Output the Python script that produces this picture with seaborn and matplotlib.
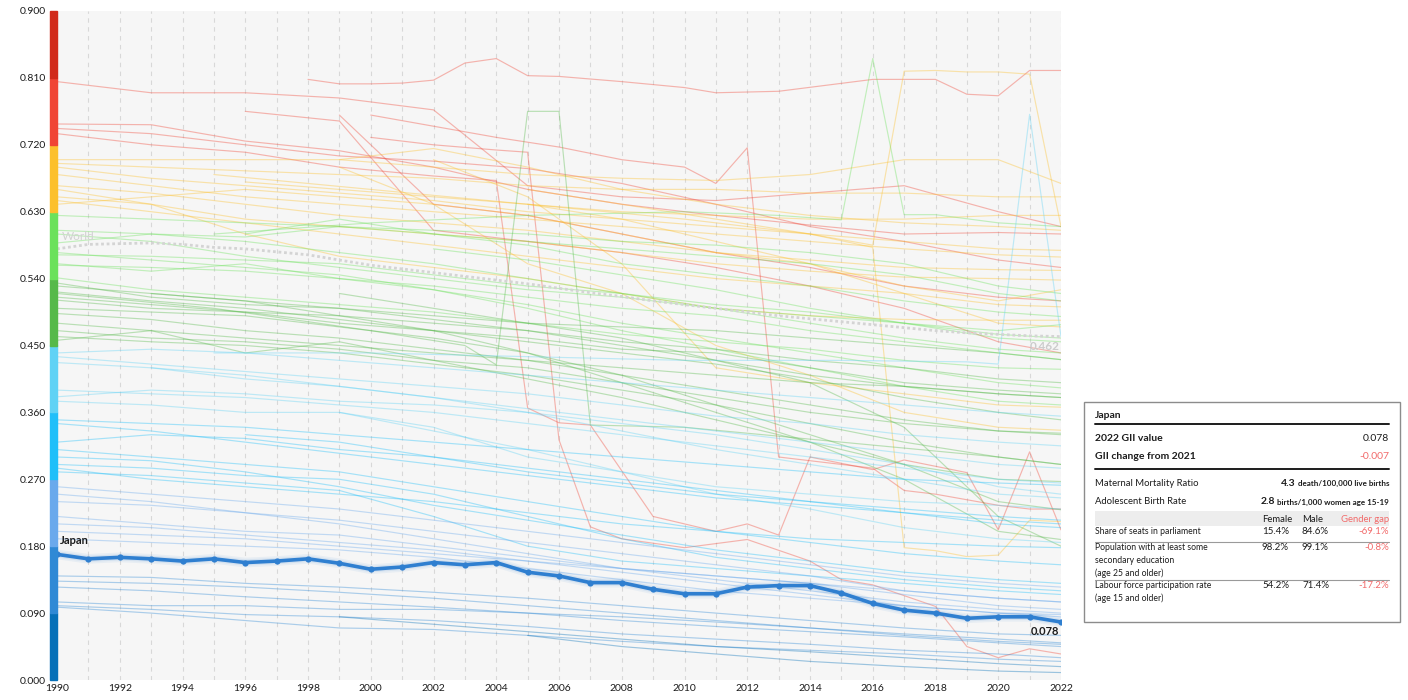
import matplotlib

matplotlib.use("Agg")
import matplotlib.pyplot as plt
import matplotlib.transforms as mtransforms
from matplotlib.lines import Line2D
from matplotlib.patches import Rectangle
import pandas as pd
import seaborn as sns

# ---------------------------------------------------------------- data
YEARS = list(range(1990, 2023))

JAPAN_GII = [0.169, 0.163, 0.165, 0.163, 0.160, 0.163, 0.158, 0.160, 0.163, 0.157,
             0.149, 0.152, 0.158, 0.155, 0.158, 0.145, 0.140, 0.131, 0.131, 0.122,
             0.116, 0.116, 0.125, 0.127, 0.127, 0.117, 0.103, 0.094, 0.090, 0.083,
             0.085, 0.085, 0.078]

WORLD_GII = [0.580, 0.586, 0.587, 0.588, 0.586, 0.582, 0.580, 0.576, 0.572, 0.565,
             0.558, 0.553, 0.548, 0.543, 0.538, 0.533, 0.527, 0.521, 0.516, 0.510,
             0.505, 0.500, 0.495, 0.490, 0.486, 0.482, 0.478, 0.474, 0.470, 0.467,
             0.465, 0.463, 0.462]

# other countries, read at a coarser set of years
GRID_YEARS = [1990, 1993, 1996, 1999, 2002, 2005, 2008, 2011, 2014, 2017, 2020, 2022]

RED_LINES = [
    [0.805, 0.790, 0.790, 0.783, 0.767, 0.665, 0.650, 0.645, 0.655, 0.665, 0.630, 0.610],
    [0.748, 0.747, 0.725, 0.712, 0.690, 0.660, 0.640, 0.625, 0.612, 0.600, 0.602, 0.600],
    [0.742, 0.735, 0.720, 0.705, 0.698, 0.688, 0.668, 0.640, 0.610, 0.590, 0.565, 0.555],
    [None, None, 0.765, 0.752, 0.605, 0.590, 0.575, 0.555, 0.530, 0.500, 0.455, 0.440],
    [None, None, None, 0.760, 0.640, 0.625, 0.600, 0.575, 0.555, 0.530, 0.515, 0.510],
]

YELLOW_LINES = [
    [0.700, 0.700, 0.700, 0.700, 0.690, 0.680, 0.675, 0.672, 0.680, 0.700, 0.700, 0.668],
    [0.695, 0.690, 0.685, 0.680, 0.675, 0.665, 0.660, 0.660, 0.655, 0.655, 0.650, 0.650],
    [0.690, 0.675, 0.665, 0.655, 0.645, 0.630, 0.620, 0.610, 0.600, 0.590, 0.580, 0.578],
    [0.680, 0.665, 0.650, 0.640, 0.630, 0.620, 0.610, 0.600, 0.590, 0.580, 0.572, 0.569],
    [0.665, 0.655, 0.640, 0.625, 0.615, 0.605, 0.590, 0.575, 0.565, 0.555, 0.552, 0.551],
    [0.650, 0.640, 0.620, 0.610, 0.600, 0.590, 0.575, 0.560, 0.550, 0.542, 0.540, 0.538],
    [0.645, 0.630, 0.615, 0.600, 0.585, 0.570, 0.555, 0.540, 0.530, 0.520, 0.505, 0.502],
    [None, None, None, 0.700, 0.715, 0.690, 0.660, 0.640, 0.625, 0.615, 0.610, 0.605],
    [None, None, 0.670, 0.660, 0.650, 0.640, 0.630, 0.625, 0.620, 0.620, 0.625, 0.625],
    [0.640, 0.650, 0.660, 0.650, 0.640, 0.625, 0.600, 0.575, 0.560, 0.530, 0.510, 0.525],
    [None, None, None, None, None, 0.640, 0.620, 0.590, 0.560, 0.520, 0.480, 0.475],
    [0.660, 0.640, 0.600, 0.570, 0.555, 0.540, 0.520, 0.500, 0.490, 0.485, 0.484, 0.484],
    [None, None, None, 0.690, 0.640, 0.560, 0.520, 0.450, 0.410, 0.360, 0.340, 0.336],
    [None, None, None, None, 0.700, 0.650, 0.560, 0.420, 0.400, 0.385, 0.370, 0.367],
]

GREEN_LINES = [
    [0.625, 0.620, 0.615, 0.610, 0.605, 0.600, 0.590, 0.585, 0.575, 0.560, 0.530, 0.520],
    [0.605, 0.600, 0.596, 0.610, 0.600, 0.590, 0.580, 0.570, 0.560, 0.545, 0.520, 0.510],
    [0.588, 0.600, 0.590, 0.575, 0.560, 0.540, 0.520, 0.500, 0.490, 0.480, 0.470, 0.478],
    [0.572, 0.570, 0.565, 0.560, 0.545, 0.530, 0.520, 0.505, 0.495, 0.480, 0.465, 0.460],
    [0.558, 0.555, 0.550, 0.540, 0.530, 0.515, 0.500, 0.490, 0.470, 0.455, 0.440, 0.431],
    [0.600, 0.590, 0.570, 0.555, 0.540, 0.525, 0.515, 0.500, 0.480, 0.460, 0.445, 0.440],
    [0.575, 0.565, 0.555, 0.545, 0.525, 0.505, 0.480, 0.460, 0.440, 0.420, 0.400, 0.393],
    [None, None, 0.600, 0.620, 0.600, 0.585, 0.560, 0.545, 0.530, 0.510, 0.495, 0.489],
    [0.560, 0.550, 0.560, 0.540, 0.525, 0.500, 0.470, 0.445, 0.420, 0.395, 0.375, 0.370],
    [None, None, None, None, 0.580, 0.565, 0.545, 0.525, 0.500, 0.480, 0.460, 0.455],
    [0.541, 0.525, 0.515, 0.505, 0.495, 0.480, 0.465, 0.455, 0.445, 0.430, 0.420, 0.418],
    [0.534, 0.515, 0.505, 0.500, 0.485, 0.470, 0.450, 0.430, 0.410, 0.395, 0.385, 0.380],
    [0.522, 0.510, 0.500, 0.485, 0.470, 0.455, 0.440, 0.425, 0.405, 0.380, 0.360, 0.350],
    [0.511, 0.500, 0.495, 0.480, 0.470, 0.460, 0.445, 0.440, 0.420, 0.400, 0.390, 0.385],
    [0.493, 0.485, 0.470, 0.460, 0.445, 0.430, 0.410, 0.390, 0.370, 0.350, 0.335, 0.332],
    [0.462, 0.455, 0.450, 0.440, 0.425, 0.410, 0.390, 0.370, 0.345, 0.320, 0.300, 0.290],
    [0.457, 0.470, 0.440, 0.455, 0.430, 0.405, 0.380, 0.350, 0.320, 0.290, 0.270, 0.267],
    [0.530, 0.520, 0.510, 0.490, 0.470, 0.440, 0.410, 0.370, 0.330, 0.290, 0.240, 0.229],
    [0.500, 0.495, 0.490, 0.475, 0.460, 0.440, 0.400, 0.360, 0.320, 0.270, 0.200, 0.189],
    [None, None, None, 0.520, 0.500, 0.480, 0.460, 0.430, 0.400, 0.340, 0.220, 0.180],
    [0.480, 0.470, 0.460, 0.450, 0.440, 0.430, 0.420, 0.410, 0.400, 0.395, 0.385, 0.380],
    [None, 0.520, 0.510, 0.500, 0.490, 0.480, 0.475, 0.470, 0.460, 0.450, 0.440, 0.431],
    [0.515, 0.505, 0.495, 0.490, 0.480, 0.470, 0.455, 0.445, 0.430, 0.420, 0.405, 0.400],
    [0.470, 0.460, 0.455, 0.445, 0.430, 0.420, 0.400, 0.380, 0.360, 0.345, 0.335, 0.330],
]

BLUE_LINES = [
    [0.440, 0.445, 0.440, 0.430, 0.420, 0.410, 0.400, 0.390, 0.380, 0.370, 0.360, 0.355],
    [0.435, 0.425, 0.415, 0.405, 0.395, 0.385, 0.370, 0.355, 0.345, 0.330, 0.320, 0.315],
    [0.427, 0.420, 0.405, 0.395, 0.380, 0.365, 0.350, 0.335, 0.320, 0.305, 0.290, 0.285],
    [0.390, 0.385, 0.380, 0.370, 0.360, 0.345, 0.330, 0.315, 0.300, 0.285, 0.270, 0.265],
    [0.381, 0.390, 0.385, 0.375, 0.370, 0.360, 0.345, 0.330, 0.310, 0.290, 0.260, 0.250],
    [0.375, 0.370, 0.360, 0.360, 0.335, 0.310, 0.280, 0.250, 0.230, 0.205, 0.190, 0.185],
    [None, 0.420, 0.410, 0.395, 0.380, 0.360, 0.335, 0.310, 0.290, 0.270, 0.250, 0.245],
    [0.350, 0.345, 0.340, 0.330, 0.320, 0.310, 0.300, 0.290, 0.280, 0.270, 0.265, 0.262],
    [0.345, 0.335, 0.320, 0.305, 0.290, 0.275, 0.260, 0.245, 0.235, 0.225, 0.215, 0.210],
    [0.320, 0.330, 0.325, 0.310, 0.300, 0.285, 0.270, 0.255, 0.240, 0.225, 0.210, 0.205],
    [0.310, 0.300, 0.290, 0.280, 0.260, 0.240, 0.220, 0.200, 0.185, 0.170, 0.160, 0.155],
    [0.300, 0.295, 0.280, 0.260, 0.235, 0.215, 0.195, 0.175, 0.160, 0.145, 0.135, 0.130],
    [0.290, 0.285, 0.275, 0.270, 0.250, 0.220, 0.190, 0.165, 0.150, 0.135, 0.125, 0.120],
    [0.285, 0.270, 0.260, 0.250, 0.240, 0.225, 0.210, 0.200, 0.190, 0.185, 0.180, 0.178],
    [0.280, 0.275, 0.265, 0.255, 0.220, 0.180, 0.160, 0.150, 0.140, 0.130, 0.120, 0.115],
    [None, None, 0.330, 0.320, 0.300, 0.280, 0.265, 0.250, 0.240, 0.230, 0.220, 0.215],
    [None, None, None, 0.360, 0.340, 0.300, 0.280, 0.260, 0.250, 0.240, 0.235, 0.230],
    [0.260, 0.250, 0.240, 0.230, 0.215, 0.200, 0.185, 0.170, 0.155, 0.140, 0.130, 0.125],
    [0.250, 0.240, 0.225, 0.215, 0.200, 0.185, 0.170, 0.155, 0.140, 0.120, 0.110, 0.105],
    [0.240, 0.235, 0.225, 0.210, 0.190, 0.170, 0.150, 0.135, 0.120, 0.105, 0.095, 0.090],
    [0.220, 0.210, 0.200, 0.195, 0.180, 0.165, 0.150, 0.140, 0.130, 0.120, 0.110, 0.105],
    [0.210, 0.205, 0.195, 0.185, 0.175, 0.160, 0.145, 0.130, 0.115, 0.100, 0.090, 0.088],
    [0.200, 0.195, 0.190, 0.180, 0.170, 0.160, 0.150, 0.140, 0.130, 0.115, 0.100, 0.095],
    [0.190, 0.185, 0.180, 0.175, 0.165, 0.150, 0.135, 0.120, 0.110, 0.100, 0.090, 0.085],
    [0.140, 0.138, 0.130, 0.125, 0.118, 0.110, 0.100, 0.090, 0.080, 0.070, 0.062, 0.060],
    [0.133, 0.130, 0.125, 0.118, 0.110, 0.100, 0.090, 0.080, 0.070, 0.062, 0.055, 0.050],
    [0.125, 0.120, 0.112, 0.105, 0.098, 0.090, 0.080, 0.072, 0.065, 0.058, 0.050, 0.045],
    [0.105, 0.100, 0.100, 0.095, 0.095, 0.090, 0.085, 0.078, 0.070, 0.060, 0.052, 0.048],
    [0.100, 0.095, 0.088, 0.085, 0.080, 0.072, 0.062, 0.055, 0.048, 0.040, 0.035, 0.030],
    [0.098, 0.090, 0.080, 0.070, 0.068, 0.060, 0.052, 0.045, 0.040, 0.035, 0.028, 0.025],
    [None, None, None, 0.085, 0.075, 0.065, 0.055, 0.045, 0.038, 0.030, 0.022, 0.018],
    [None, None, None, None, None, 0.060, 0.045, 0.035, 0.025, 0.018, 0.012, 0.010],
]

# countries with sudden jumps, read year by year where they jump
RS1_YEARS = [1998, 1999, 2000, 2001, 2002, 2003, 2004, 2005, 2006, 2008, 2010, 2011,
             2013, 2016, 2017, 2018, 2019, 2020, 2021, 2022]
RS1_GII = [0.808, 0.802, 0.802, 0.803, 0.807, 0.830, 0.836, 0.813, 0.812, 0.805, 0.797,
           0.790, 0.792, 0.808, 0.808, 0.808, 0.788, 0.786, 0.820, 0.820]
RS2_YEARS = [1990, 1993, 1996, 1999, 2002, 2004, 2005, 2006, 2007, 2009, 2011, 2012,
             2013, 2014, 2016, 2017, 2019, 2020, 2021, 2022]
RS2_GII = [0.735, 0.720, 0.710, 0.690, 0.678, 0.672, 0.366, 0.346, 0.343, 0.220, 0.200,
           0.210, 0.195, 0.300, 0.283, 0.296, 0.279, 0.202, 0.307, 0.202]
RS3_YEARS = [2000, 2002, 2004, 2005, 2006, 2007, 2008, 2010, 2012, 2014, 2015, 2016,
             2018, 2019, 2020, 2021, 2022]
RS3_GII = [0.730, 0.720, 0.713, 0.710, 0.323, 0.206, 0.190, 0.178, 0.189, 0.160, 0.135,
           0.128, 0.099, 0.045, 0.030, 0.042, 0.035]
RS4_YEARS = [2000, 2002, 2004, 2006, 2008, 2010, 2011, 2012, 2013, 2014, 2016, 2017,
             2018, 2020, 2021, 2022]
RS4_GII = [0.760, 0.745, 0.730, 0.717, 0.700, 0.690, 0.668, 0.716, 0.300, 0.295, 0.285,
           0.255, 0.250, 0.235, 0.230, 0.230]
YS1_YEARS = [2005, 2008, 2011, 2014, 2016, 2017, 2018, 2019, 2020, 2021, 2022]
YS1_GII = [0.660, 0.640, 0.620, 0.600, 0.585, 0.819, 0.820, 0.818, 0.818, 0.815, 0.610]
YS2_YEARS = [1995, 2000, 2005, 2010, 2014, 2016, 2017, 2018, 2019, 2020, 2021, 2022]
YS2_GII = [0.680, 0.660, 0.640, 0.620, 0.600, 0.582, 0.178, 0.174, 0.166, 0.168, 0.215,
           0.213]
GS1_YEARS = [1995, 2000, 2005, 2010, 2013, 2015, 2016, 2017, 2018, 2020, 2022]
GS1_GII = [0.600, 0.615, 0.625, 0.630, 0.625, 0.619, 0.836, 0.626, 0.626, 0.615, 0.610]
GS2_YEARS = [1990, 1995, 2000, 2003, 2004, 2005, 2006, 2007, 2010, 2015, 2020, 2022]
GS2_GII = [0.520, 0.500, 0.470, 0.450, 0.424, 0.765, 0.765, 0.343, 0.340, 0.320, 0.300,
           0.290]
BS1_YEARS = [1995, 2000, 2005, 2010, 2015, 2019, 2020, 2021, 2022]
BS1_GII = [0.440, 0.440, 0.435, 0.430, 0.430, 0.428, 0.425, 0.761, 0.462]

BAND_EDGES = [0.0, 0.09, 0.18, 0.27, 0.36, 0.45, 0.54, 0.63, 0.72, 0.81, 0.90]
BAND_COLORS = ["#0670b8", "#2f89d5", "#6aa9ec", "#20bff9", "#60d2f5",
               "#56b94a", "#6be15b", "#fcc02c", "#f04535", "#d12a1a"]

BOX_ROWS = [
    ("Share of seats in parliament", "15.4%", "84.6%", "-69.1%"),
    ("Population with at least some\nsecondary education\n(age 25 and older)",
     "98.2%", "99.1%", "-0.8%"),
    ("Labour force participation rate\n(age 15 and older)", "54.2%", "71.4%", "-17.2%"),
]

# ---------------------------------------------------------------- style
sns.set_style("white")
plt.rcParams["font.family"] = ["Lato", "DejaVu Sans"]
TEXT = "#1c1c1c"
GAP_RED = "#f26b6b"


def band_of(v):
    return f"b{min(int(v / 0.09 + 1e-9), 9)}"


# long table of every background country line
rows = []
series = []
for group in (RED_LINES, YELLOW_LINES, GREEN_LINES, BLUE_LINES):
    for vals in group:
        series.append((GRID_YEARS, vals))
series += [(RS1_YEARS, RS1_GII), (RS2_YEARS, RS2_GII), (RS3_YEARS, RS3_GII),
           (RS4_YEARS, RS4_GII), (YS1_YEARS, YS1_GII), (YS2_YEARS, YS2_GII),
           (GS1_YEARS, GS1_GII), (GS2_YEARS, GS2_GII), (BS1_YEARS, BS1_GII)]
for i, (yrs, vals) in enumerate(series):
    pts = [(y, v) for y, v in zip(yrs, vals) if v is not None]
    band = band_of(pts[0][1])
    for y, v in pts:
        rows.append({"country": f"c{i:03d}", "year": y, "gii": v, "band": band})
bg = pd.DataFrame(rows)
palette = {f"b{i}": c for i, c in enumerate(BAND_COLORS)}

fig = plt.figure(figsize=(14.08, 7.0), dpi=100)
W, H = 1408, 700
ax = fig.add_axes([57 / W, 1 - 680 / H, 1004 / W, 669 / H])
ax.set_facecolor("#f6f6f6")

for yr in YEARS:
    ax.axvline(yr, color="#d8d8d8", lw=0.8, ls=(0, (4, 4)), zorder=0)

sns.lineplot(data=bg, x="year", y="gii", units="country", estimator=None,
             hue="band", palette=palette, legend=False, linewidth=0.85,
             alpha=0.38, ax=ax, zorder=2)

# world average
ax.plot(YEARS, WORLD_GII, color="#d4d4d4", lw=2.0, ls=(0, (1, 1)), zorder=3)
ax.text(1990.15, 0.597, "World", color="#d2d2d2", fontsize=8.5, va="center", ha="left")
ax.text(2021.95, 0.449, f"{WORLD_GII[-1]:.3f}", color="#cccccc", fontsize=8.5,
        weight="bold", va="center", ha="right")

# Japan highlighted
jp_color = "#2f7fd0"
ax.plot(YEARS, JAPAN_GII, color=jp_color, lw=7, alpha=0.07, zorder=4,
        solid_capstyle="round")
ax.plot(YEARS, JAPAN_GII, color=jp_color, lw=4.5, alpha=0.10, zorder=4,
        solid_capstyle="round")
sns.lineplot(x=YEARS, y=JAPAN_GII, color=jp_color, lw=2.6, marker="o",
             markersize=4.5, markeredgewidth=0, ax=ax, zorder=5)
ax.text(1990.1, 0.187, "Japan", color=TEXT, fontsize=8, weight="bold",
        va="center", ha="left")
ax.text(2021.95, 0.065, f"{JAPAN_GII[-1]:.3f}", color=TEXT, fontsize=8,
        weight="bold", va="center", ha="right")

# colour scale strip on the left edge
strip = mtransforms.blended_transform_factory(ax.transAxes, ax.transData)
for lo, hi, c in zip(BAND_EDGES[:-1], BAND_EDGES[1:], BAND_COLORS):
    ax.add_patch(Rectangle((-7 / 1004, lo), 7 / 1004, hi - lo, transform=strip,
                           color=c, clip_on=False, zorder=6))

ax.set_xlim(1990, 2022)
ax.set_ylim(0, 0.9)
ax.set_xticks(range(1990, 2023, 2))
ax.set_yticks(BAND_EDGES)
ax.set_yticklabels([f"{v:.3f}" for v in BAND_EDGES])
ax.tick_params(axis="both", length=0, labelsize=7.5, colors=TEXT)
ax.tick_params(axis="y", pad=8)
ax.tick_params(axis="x", pad=3)
ax.set_xlabel("")
ax.set_ylabel("")
for s in ax.spines.values():
    s.set_visible(False)


# ---------------------------------------------------------------- info box
def fx(x):
    return x / W


def fy(y):
    return 1 - y / H


def hline(y, lw, color):
    fig.add_artist(Line2D([fx(1095), fx(1389)], [fy(y), fy(y)], lw=lw, color=color))


fig.add_artist(Rectangle((fx(1084), fy(622)), fx(1400) - fx(1084), fy(402) - fy(622),
                         transform=fig.transFigure, fill=False, ec="#8c8c8c", lw=1))
fig.text(fx(1095), fy(415), "Japan", fontsize=7.5, weight="bold", color=TEXT, va="center")
hline(424.3, 1.4, TEXT)
fig.text(fx(1095), fy(438.7), "2022 GII value", fontsize=7.5, weight="bold",
         color=TEXT, va="center")
fig.text(fx(1389), fy(438.7), f"{JAPAN_GII[-1]:.3f}", fontsize=7.5, color=TEXT,
         va="center", ha="right")
fig.text(fx(1095), fy(456.7), "GII change from 2021", fontsize=7.5, weight="bold",
         color=TEXT, va="center")
fig.text(fx(1389), fy(456.7), f"{JAPAN_GII[-1] - JAPAN_GII[-2]:.3f}", fontsize=7.5,
         color=GAP_RED, va="center", ha="right")
hline(469.3, 1.4, TEXT)

renderer = fig.canvas.get_renderer()
for y, label, big, small in [(486, "Maternal Mortality Ratio", "4.3",
                              "death/100,000 live births"),
                             (504.5, "Adolescent Birth Rate", "2.8",
                              "births/1,000 women age 15-19")]:
    fig.text(fx(1095), fy(y), label, fontsize=6.8, color=TEXT, va="baseline")
    t = fig.text(fx(1389), fy(y), small, fontsize=5.8, color=TEXT, va="baseline",
                 ha="right", weight="bold")
    x0 = t.get_window_extent(renderer).x0
    fig.text((x0 - 2) / W, fy(y), big, fontsize=7.5, color=TEXT, va="baseline",
             ha="right", weight="bold")

fig.add_artist(Rectangle((fx(1095), fy(526)), fx(1389) - fx(1095), fy(511) - fy(526),
                         transform=fig.transFigure, color="#ededed", lw=0))
fig.text(fx(1262), fy(519), "Female", fontsize=6.8, color=TEXT, va="center")
fig.text(fx(1302), fy(519), "Male", fontsize=6.8, color=TEXT, va="center")
fig.text(fx(1389), fy(519), "Gender gap", fontsize=6.8, color=GAP_RED, va="center",
         ha="right")

row_tops = [527.5, 543.5, 581.5]
row_bottoms = [541.7, 580, None]
for (label, fem, male, gap), top, bottom in zip(BOX_ROWS, row_tops, row_bottoms):
    fig.text(fx(1095), fy(top), label, fontsize=6.2, color=TEXT, va="top",
             linespacing=1.45)
    fig.text(fx(1262), fy(top), fem, fontsize=7, color=TEXT, va="top")
    fig.text(fx(1302), fy(top), male, fontsize=7, color=TEXT, va="top")
    fig.text(fx(1389), fy(top), gap, fontsize=7, color=GAP_RED, va="top", ha="right")
    if bottom is not None:
        hline(bottom, 0.8, "#9a9a9a")

fig.savefig("out.png", dpi=100)
